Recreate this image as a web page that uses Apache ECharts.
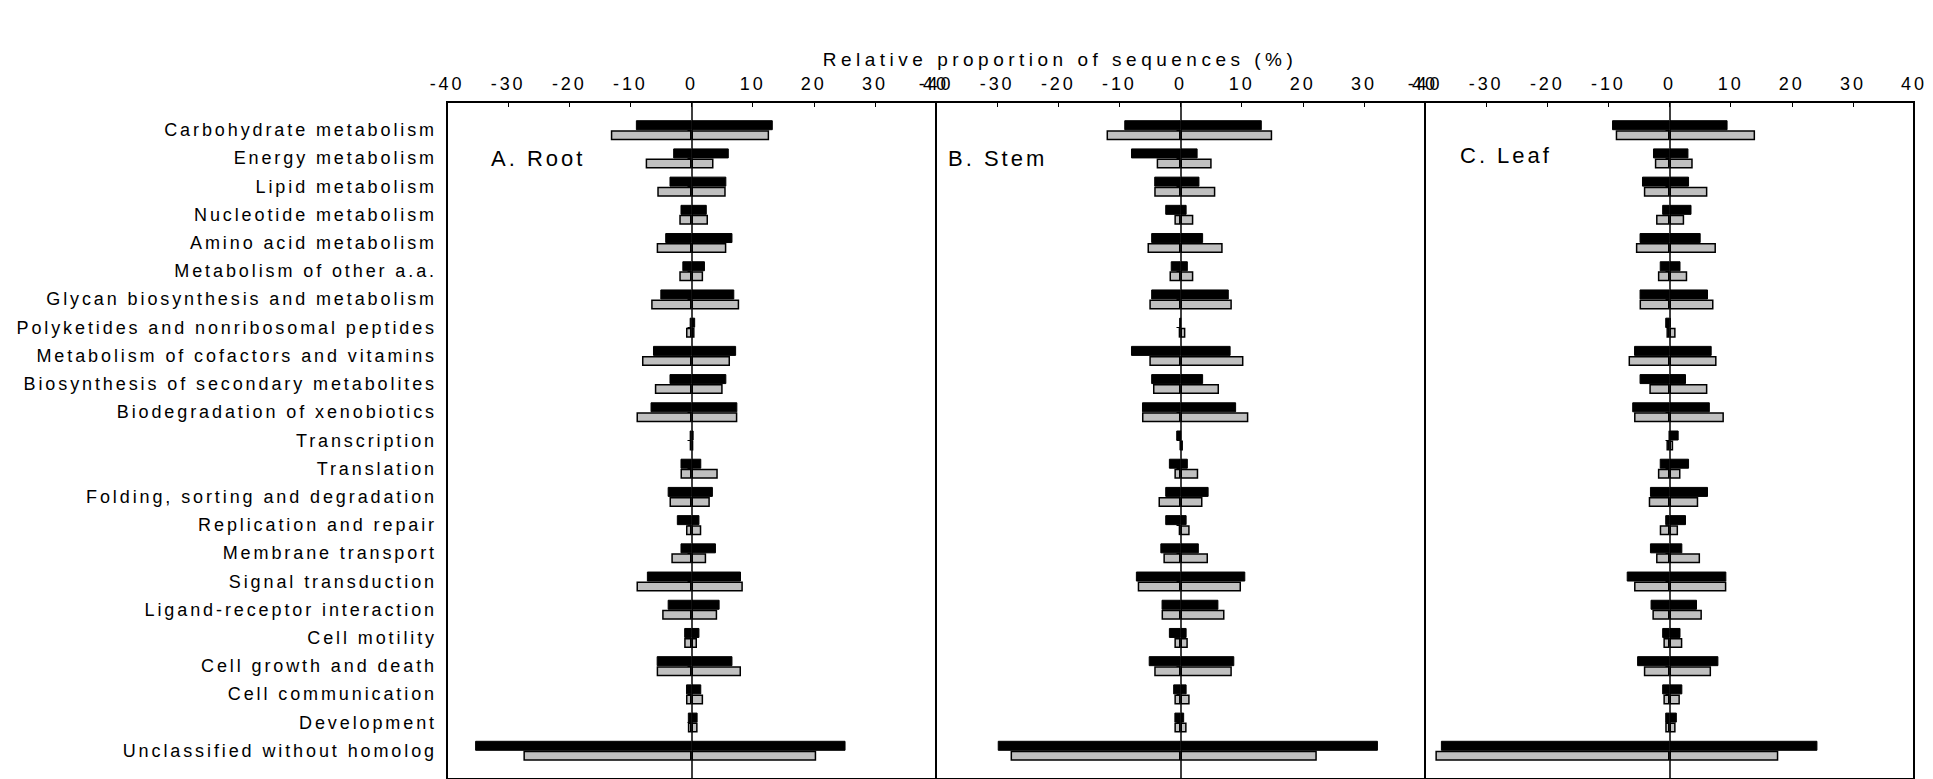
<!DOCTYPE html>
<html>
<head>
<meta charset="utf-8">
<title>Relative proportion of sequences</title>
<script src="https://cdn.jsdelivr.net/npm/echarts@6/dist/echarts.min.js"></script>
<style>
  html, body { margin: 0; padding: 0; background: #fff; }
  #chart { width: 1933px; height: 779px; }
</style>
</head>
<body>
<div id="chart"></div>
<script>
// Functional categories, top to bottom
const categories = [
  'Carbohydrate metabolism',
  'Energy metabolism',
  'Lipid metabolism',
  'Nucleotide metabolism',
  'Amino acid metabolism',
  'Metabolism of other a.a.',
  'Glycan biosynthesis and metabolism',
  'Polyketides and nonribosomal peptides',
  'Metabolism of cofactors and vitamins',
  'Biosynthesis of secondary metabolites',
  'Biodegradation of xenobiotics',
  'Transcription',
  'Translation',
  'Folding, sorting and degradation',
  'Replication and repair',
  'Membrane transport',
  'Signal transduction',
  'Ligand-receptor interaction',
  'Cell motility',
  'Cell growth and death',
  'Cell communication',
  'Development',
  'Unclassified without homolog'
];

const xTicks = [-40, -30, -20, -10, 0, 10, 20, 30, 40];
const panelNames = ['A. Root', 'B. Stem', 'C. Leaf'];

// Root (%): dark and light bars, left (negative) and right (positive) extents
const rootDarkLeft   = [-9.1, -3.0, -3.6, -1.8, -4.3, -1.5, -5.1, -0.3, -6.3, -3.6, -6.7, -0.3, -1.8, -3.9, -2.4, -1.8, -7.3, -3.9, -1.2, -5.7, -0.9, -0.6, -35.4];
const rootDarkRight  = [13.3, 6.1, 5.7, 2.5, 6.7, 2.2, 7.0, 0.6, 7.3, 5.7, 7.5, 0.35, 1.6, 3.5, 1.3, 4.0, 8.1, 4.6, 1.3, 6.7, 1.6, 1.0, 25.2];
const rootLightLeft  = [-13.2, -7.5, -5.6, -2.0, -5.7, -2.0, -6.6, -0.9, -8.1, -6.0, -9.0, -0.3, -1.8, -3.6, -0.9, -3.3, -9.0, -4.8, -1.2, -5.7, -0.9, -0.6, -27.5];
const rootLightRight = [12.7, 3.6, 5.6, 2.7, 5.7, 1.9, 7.8, 0.5, 6.3, 5.1, 7.5, 0.3, 4.3, 3.0, 1.6, 2.4, 8.4, 4.2, 0.9, 8.1, 1.9, 1.0, 20.4];

// Stem (%)
const stemDarkLeft   = [-9.2, -8.1, -4.3, -2.5, -4.8, -1.6, -4.8, -0.2, -8.1, -4.8, -6.3, -0.7, -1.9, -2.5, -2.5, -3.3, -7.3, -3.1, -1.9, -5.2, -1.2, -1.0, -29.9];
const stemDarkRight  = [13.3, 2.8, 3.1, 1.0, 3.7, 1.2, 7.9, 0.05, 8.2, 3.7, 9.1, 0.05, 1.2, 4.6, 1.0, 3.0, 10.6, 6.2, 1.0, 8.8, 1.0, 0.6, 32.3];
const stemLightLeft  = [-12.1, -3.9, -4.3, -1.0, -5.4, -1.8, -5.1, -0.3, -5.1, -4.5, -6.3, -0.1, -1.0, -3.6, -0.3, -2.8, -7.0, -3.1, -1.0, -4.3, -1.0, -1.0, -27.8];
const stemLightRight = [15.0, 5.1, 5.7, 2.1, 6.9, 2.1, 8.4, 0.8, 10.3, 6.3, 11.1, 0.4, 2.9, 3.6, 1.5, 4.5, 9.9, 7.2, 1.2, 8.4, 1.5, 1.0, 22.3];

// Leaf (%)
const leafDarkLeft   = [-9.4, -2.7, -4.5, -1.2, -4.9, -1.6, -4.9, -0.7, -5.8, -4.9, -6.1, -0.1, -1.6, -3.2, -0.7, -3.2, -7.0, -3.1, -1.2, -5.3, -1.2, -0.7, -37.4];
const leafDarkRight  = [9.5, 3.1, 3.2, 3.6, 5.1, 1.8, 6.3, 0.2, 6.9, 2.7, 6.6, 1.5, 3.2, 6.3, 2.7, 2.1, 9.3, 4.5, 1.8, 8.0, 2.1, 1.2, 24.2];
const leafLightLeft  = [-8.8, -2.4, -4.2, -2.2, -5.5, -1.9, -4.9, -0.5, -6.7, -3.3, -5.8, -0.5, -1.9, -3.4, -1.6, -2.2, -5.8, -2.8, -1.0, -4.2, -1.0, -0.7, -38.3];
const leafLightRight = [14.0, 3.8, 6.2, 2.4, 7.6, 2.9, 7.2, 1.0, 7.7, 6.2, 8.9, 0.6, 1.8, 4.7, 1.4, 5.0, 9.3, 5.3, 2.1, 6.8, 1.7, 1.0, 17.8];

const panels = [
  { dark: [rootDarkLeft, rootDarkRight], light: [rootLightLeft, rootLightRight] },
  { dark: [stemDarkLeft, stemDarkRight], light: [stemLightLeft, stemLightRight] },
  { dark: [leafDarkLeft, leafDarkRight], light: [leafLightLeft, leafLightRight] }
];

const FONT = "'Liberation Sans', Arial, sans-serif";
const DARK = '#000000';
const LIGHT = '#c0c0c0';

// Layout of the three side-by-side panels (pixels)
const gridLefts = [447, 936, 1425];
const gridWidth = 489;
const gridTop = 102;
const rowStep = 28.4;
// one empty slot above the first category and one below the last
const axisCats = [''].concat(categories, ['']);
const pad = arr => [null].concat(arr, [null]);

const grids = [], xAxes = [], yAxes = [], series = [];

panels.forEach((p, i) => {
  grids.push({
    left: gridLefts[i], top: gridTop, width: gridWidth, height: rowStep * (axisCats.length - 1),
    show: true, borderColor: '#000', borderWidth: 2, backgroundColor: 'transparent', containLabel: false
  });
  xAxes.push({
    gridIndex: i, type: 'value', position: 'top',
    min: xTicks[0], max: xTicks[xTicks.length - 1], interval: 10,
    axisLine: { show: false },
    axisTick: { show: true, inside: true, length: 5, lineStyle: { color: '#000', width: 1 } },
    splitLine: { show: false },
    axisLabel: { show: true, margin: 9, color: '#000', fontSize: 18, fontFamily: FONT, showMinLabel: true, showMaxLabel: true }
  });
  yAxes.push({
    gridIndex: i, type: 'category', data: axisCats, inverse: true, boundaryGap: false,
    axisLine: { show: false },
    axisTick: {
      show: true, inside: false, length: 4, lineStyle: { color: '#000', width: 1 },
      interval: idx => idx > 0 && idx < axisCats.length - 1
    },
    splitLine: { show: false },
    axisLabel: { show: i === 0, interval: 0, margin: 10, color: '#000', fontSize: 18, fontFamily: FONT }
  });

  const groups = [['dark', DARK, p.dark], ['light', LIGHT, p.light]];
  groups.forEach(([key, color, pair]) => {
    pair.forEach((vals, k) => {
      series.push({
        type: 'bar', name: panelNames[i] + ' ' + key + (k ? ' +' : ' -'),
        xAxisIndex: i, yAxisIndex: i, stack: 'p' + i + key,
        barWidth: 10, barGap: '0%',
        data: pad(vals),
        itemStyle: { color: color, borderColor: '#000', borderWidth: key === 'light' ? 1.5 : 1 },
        silent: true
      });
    });
  });
  // zero line through the panel
  series[series.length - 4].markLine = {
    silent: true, symbol: 'none', animation: false,
    label: { show: false },
    lineStyle: { color: '#000', width: 1.5, type: 'solid' },
    data: [{ xAxis: 0 }]
  };
});

const chart = echarts.init(document.getElementById('chart'), null, { renderer: 'svg' });
chart.setOption({
  backgroundColor: '#fff',
  animation: false,
  grid: grids,
  xAxis: xAxes,
  yAxis: yAxes,
  series: series,
  graphic: [
    { type: 'text', x: 1060, y: 59, style: { text: 'Relative proportion of sequences (%)', fontSize: 19, fontFamily: FONT, fill: '#000', align: 'center', verticalAlign: 'middle', textAlign: 'center', textVerticalAlign: 'middle' } },
    { type: 'text', x: 491, y: 158, style: { text: panelNames[0], fontSize: 22, fontFamily: FONT, fill: '#000', align: 'left', verticalAlign: 'middle', textAlign: 'left', textVerticalAlign: 'middle' } },
    { type: 'text', x: 948, y: 158, style: { text: panelNames[1], fontSize: 22, fontFamily: FONT, fill: '#000', align: 'left', verticalAlign: 'middle', textAlign: 'left', textVerticalAlign: 'middle' } },
    { type: 'text', x: 1460, y: 155, style: { text: panelNames[2], fontSize: 22, fontFamily: FONT, fill: '#000', align: 'left', verticalAlign: 'middle', textAlign: 'left', textVerticalAlign: 'middle' } }
  ]
});

// widen the lettering (tracking) by font size
const TRACKING = { 18: 2.9, 19: 4.5, 22: 3 };
function applyTracking() {
  document.querySelectorAll('#chart svg text').forEach(t => {
    const fs = Math.round(parseFloat(getComputedStyle(t).fontSize));
    if (TRACKING[fs] != null) t.style.letterSpacing = TRACKING[fs] + 'px';
  });
}
chart.on('finished', applyTracking);
setTimeout(applyTracking, 50);
</script>
</body>
</html>
